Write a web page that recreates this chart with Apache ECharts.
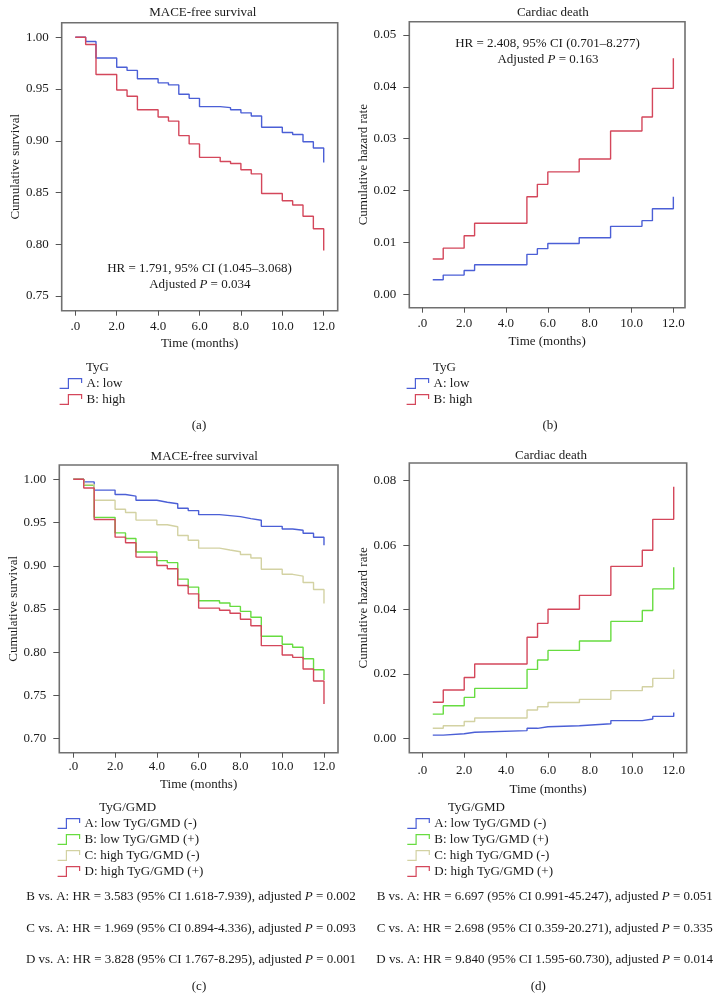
<!DOCTYPE html>
<html><head><meta charset="utf-8">
<script src="https://cdn.jsdelivr.net/npm/echarts@6/dist/echarts.min.js"></script>
<style>html,body{margin:0;padding:0;background:#fff}#c{width:720px;height:1001px}</style>
</head><body><div id="c"></div>
<script>
// ---------- data ----------
const xTicks = [0, 2, 4, 6, 8, 10, 12];
const yTicksA = [0.75, 0.80, 0.85, 0.90, 0.95, 1.00];
const yTicksB = [0.00, 0.01, 0.02, 0.03, 0.04, 0.05];
const yTicksC = [0.70, 0.75, 0.80, 0.85, 0.90, 0.95, 1.00];
const yTicksD = [0.00, 0.02, 0.04, 0.06, 0.08];

// survival time points (months)
const timesSurv = [0, 0.5, 1, 2, 2.5, 3, 4, 4.5, 5, 5.5, 6, 7, 7.5, 8, 8.5, 9, 10, 10.5, 11, 11.5, 12];
// hazard time points (months)
const timesHaz = [0.5, 1, 2, 2.5, 5, 5.5, 6, 7.5, 9, 10.5, 11, 12];

// (a) MACE-free survival, TyG
const aLow  = [1.000, 0.996, 0.980, 0.971, 0.968, 0.960, 0.956, 0.954, 0.945, 0.941, 0.933, 0.932, 0.930, 0.927, 0.924, 0.913, 0.908, 0.906, 0.899, 0.893, 0.879];
const aHigh = [1.000, 0.993, 0.964, 0.949, 0.943, 0.930, 0.923, 0.919, 0.905, 0.897, 0.884, 0.880, 0.878, 0.872, 0.868, 0.849, 0.842, 0.838, 0.827, 0.815, 0.794];

// (b) Cardiac death, TyG
const bLow  = [0.0028, 0.0037, 0.0046, 0.0057, 0.0077, 0.0088, 0.0098, 0.0109, 0.0131, 0.0142, 0.0165, 0.0188];
const bHigh = [0.0068, 0.0089, 0.0113, 0.0137, 0.0188, 0.0212, 0.0236, 0.0261, 0.0315, 0.0342, 0.0397, 0.0455];

// (c) MACE-free survival, TyG/GMD
const cA = [1.000, 0.997, 0.9875, 0.9824, 0.9805, 0.9757, 0.9734, 0.9717, 0.9666, 0.9638, 0.9591, 0.958, 0.9568, 0.9545, 0.9526, 0.9456, 0.9425, 0.941, 0.9376, 0.9329, 0.9236];
const cB = [1.000, 0.993, 0.956, 0.938, 0.9315, 0.916, 0.906, 0.9036, 0.8845, 0.8753, 0.8595, 0.857, 0.853, 0.8473, 0.8404, 0.8184, 0.8092, 0.8057, 0.7925, 0.7798, 0.768];
const cC = [1.000, 0.994, 0.9757, 0.9653, 0.9616, 0.9528, 0.9474, 0.9451, 0.935, 0.9295, 0.9204, 0.9182, 0.9162, 0.9131, 0.909, 0.8959, 0.8901, 0.888, 0.8807, 0.8725, 0.8564];
const cD = [1.000, 0.990, 0.9535, 0.9331, 0.9267, 0.910, 0.9003, 0.8966, 0.8772, 0.8675, 0.851, 0.8485, 0.845, 0.8381, 0.8307, 0.8076, 0.7968, 0.7941, 0.7806, 0.7667, 0.740];

// (d) Cardiac death, TyG/GMD
const dA = [0.0010, 0.0014, 0.0019, 0.0024, 0.0031, 0.0036, 0.0039, 0.0045, 0.0055, 0.0060, 0.0068, 0.0080];
const dB = [0.0075, 0.0101, 0.0127, 0.0155, 0.0214, 0.0243, 0.0273, 0.0302, 0.0363, 0.0397, 0.0464, 0.0531];
const dC = [0.0031, 0.0039, 0.0052, 0.0063, 0.0088, 0.0098, 0.0111, 0.0121, 0.0148, 0.0160, 0.0186, 0.0214];
const dD = [0.0112, 0.0150, 0.0189, 0.0231, 0.0314, 0.0357, 0.0401, 0.0444, 0.0534, 0.0584, 0.0680, 0.0781];

const namesTyG = ['A: low', 'B: high'];
const namesGMD = ['A: low TyG/GMD (-)', 'B: low TyG/GMD (+)', 'C: high TyG/GMD (-)', 'D: high TyG/GMD (+)'];

const statsC = [
  'B vs. A: HR = 3.583 (95% CI 1.618-7.939), adjusted {i|P} = 0.002',
  'C vs. A: HR = 1.969 (95% CI 0.894-4.336), adjusted {i|P} = 0.093',
  'D vs. A: HR = 3.828 (95% CI 1.767-8.295), adjusted {i|P} = 0.001'
];
const statsD = [
  'B vs. A: HR = 6.697 (95% CI 0.991-45.247), adjusted {i|P} = 0.051',
  'C vs. A: HR = 2.698 (95% CI 0.359-20.271), adjusted {i|P} = 0.335',
  'D vs. A: HR = 9.840 (95% CI 1.595-60.730), adjusted {i|P} = 0.014'
];

// ---------- styles ----------
const FONT = '"Liberation Serif", "DejaVu Serif", serif';
const TXT = '#1a1a1a';
const BLUE = '#4b5fd6', RED = '#d4475b', GREEN = '#67dc40', TAN = '#d3d2a3';
const FS = 13;

function zip(t, v) { return t.map((x, i) => [x, v[i]]); }
function km(name, t, v, color, idx) {
  return {
    type: 'line', name, xAxisIndex: idx, yAxisIndex: idx, data: zip(t, v),
    step: 'end', symbol: 'none', silent: true, animation: false,
    lineStyle: { color, width: 1.4 }, itemStyle: { color }
  };
}
function gridOf(left, top, width, height) {
  return { left, top, width, height, show: true, borderColor: '#707070', borderWidth: 1.6, backgroundColor: '#fff' };
}
function xAx(idx, min, max, margin, gap) {
  return {
    type: 'value', gridIndex: idx, min, max, name: 'Time (months)', nameLocation: 'middle', nameGap: gap,
    position: 'bottom',
    nameTextStyle: { fontFamily: FONT, fontSize: FS, color: TXT },
    axisLine: { show: false, onZero: false }, splitLine: { show: false },
    axisTick: { show: true, customValues: xTicks, length: 5, lineStyle: { color: '#555', width: 1 } },
    axisLabel: { customValues: xTicks, margin, fontFamily: FONT, fontSize: FS, color: TXT,
      formatter: v => v === 0 ? '.0' : v.toFixed(1) }
  };
}
function yAx(idx, min, max, ticks, dec, name, gap) {
  return {
    type: 'value', gridIndex: idx, min, max, name, nameLocation: 'middle', nameGap: gap,
    position: 'left',
    nameTextStyle: { fontFamily: FONT, fontSize: FS, color: TXT },
    axisLine: { show: false, onZero: false }, splitLine: { show: false },
    axisTick: { show: true, customValues: ticks, length: 6, lineStyle: { color: '#555', width: 1 } },
    axisLabel: { customValues: ticks, margin: 13, fontFamily: FONT, fontSize: FS, color: TXT,
      formatter: v => v.toFixed(dec) }
  };
}
function txt(x, y, text, align) {
  return {
    type: 'text', x, y, silent: true,
    style: {
      text, fontFamily: FONT, fontSize: FS, fill: TXT,
      align: align || 'center', verticalAlign: 'middle',
      textAlign: align || 'center', textVerticalAlign: 'middle',
      rich: { i: { fontStyle: 'italic', fontFamily: FONT, fontSize: FS, fill: TXT } }
    }
  };
}
const ICON = 'path://M0,10L8,10L8,1L20,1L20,5';
function legendOf(left, top, names, colors) {
  return {
    left, top, orient: 'vertical', padding: 0, itemGap: 3, itemWidth: 22, itemHeight: 10,
    selectedMode: false, icon: ICON,
    textStyle: { fontFamily: FONT, fontSize: FS, color: TXT },
    data: names.map((n, i) => ({ name: n, itemStyle: { color: 'transparent', borderColor: colors[i], borderWidth: 1.2 } }))
  };
}

const option = {
  backgroundColor: '#fff',
  animation: false,
  grid: [
    gridOf(61.7, 22.7, 276, 288),
    gridOf(409.3, 21.7, 275.7, 286),
    gridOf(59.3, 465, 278.7, 287.7),
    gridOf(409.3, 463, 277.4, 289.7)
  ],
  xAxis: [
    xAx(0, -0.657, 12.676, 9, 26),
    xAx(1, -0.621, 12.557, 9, 27),
    xAx(2, -0.670, 12.671, 7.5, 25),
    xAx(3, -0.621, 12.62, 11.5, 30)
  ],
  yAxis: [
    yAx(0, 0.7358, 1.0141, yTicksA, 2, 'Cumulative survival', 40),
    yAx(1, -0.002584, 0.052565, yTicksB, 2, 'Cumulative hazard rate', 39),
    yAx(2, 0.6838, 1.01654, yTicksC, 2, 'Cumulative survival', 38),
    yAx(3, -0.00447, 0.0855, yTicksD, 2, 'Cumulative hazard rate', 39)
  ],
  legend: [
    legendOf(59, 377, namesTyG, [BLUE, RED]),
    legendOf(406, 377, namesTyG, [BLUE, RED]),
    legendOf(57, 817, namesGMD, [BLUE, GREEN, TAN, RED]),
    legendOf(406.7, 817, namesGMD, [BLUE, GREEN, TAN, RED])
  ],
  series: [
    km(namesTyG[0], timesSurv, aLow, BLUE, 0),
    km(namesTyG[1], timesSurv, aHigh, RED, 0),
    km(namesTyG[0], timesHaz, bLow, BLUE, 1),
    km(namesTyG[1], timesHaz, bHigh, RED, 1),
    km(namesGMD[0], timesSurv, cA, BLUE, 2),
    km(namesGMD[1], timesSurv, cB, GREEN, 2),
    km(namesGMD[2], timesSurv, cC, TAN, 2),
    km(namesGMD[3], timesSurv, cD, RED, 2),
    km(namesGMD[0], timesHaz, dA, BLUE, 3),
    km(namesGMD[1], timesHaz, dB, GREEN, 3),
    km(namesGMD[2], timesHaz, dC, TAN, 3),
    km(namesGMD[3], timesHaz, dD, RED, 3)
  ],
  graphic: [
    txt(202.8, 12.7, 'MACE-free survival'),
    txt(552.8, 12.7, 'Cardiac death'),
    txt(204.2, 456.7, 'MACE-free survival'),
    txt(551, 456, 'Cardiac death'),
    txt(199.5, 268.3, 'HR = 1.791, 95% CI (1.045\u20133.068)'),
    txt(199.8, 285, 'Adjusted {i|P} = 0.034'),
    txt(547.5, 43.3, 'HR = 2.408, 95% CI (0.701\u20138.277)'),
    txt(548, 59.3, 'Adjusted {i|P} = 0.163'),
    txt(86, 367.7, 'TyG', 'left'),
    txt(433, 367.7, 'TyG', 'left'),
    txt(99.3, 807.7, 'TyG/GMD', 'left'),
    txt(448, 807.7, 'TyG/GMD', 'left'),
    txt(191, 896.7, statsC[0]),
    txt(191, 928.3, statsC[1]),
    txt(191, 959.3, statsC[2]),
    txt(544.7, 896.7, statsD[0]),
    txt(544.7, 928.3, statsD[1]),
    txt(544.7, 959.3, statsD[2]),
    txt(199, 425.7, '(a)'),
    txt(550, 425.7, '(b)'),
    txt(199, 986.7, '(c)'),
    txt(538.3, 986.7, '(d)')
  ]
};
const chart = echarts.init(document.getElementById('c'), null, { renderer: 'canvas' });
chart.setOption(option);
</script></body></html>
